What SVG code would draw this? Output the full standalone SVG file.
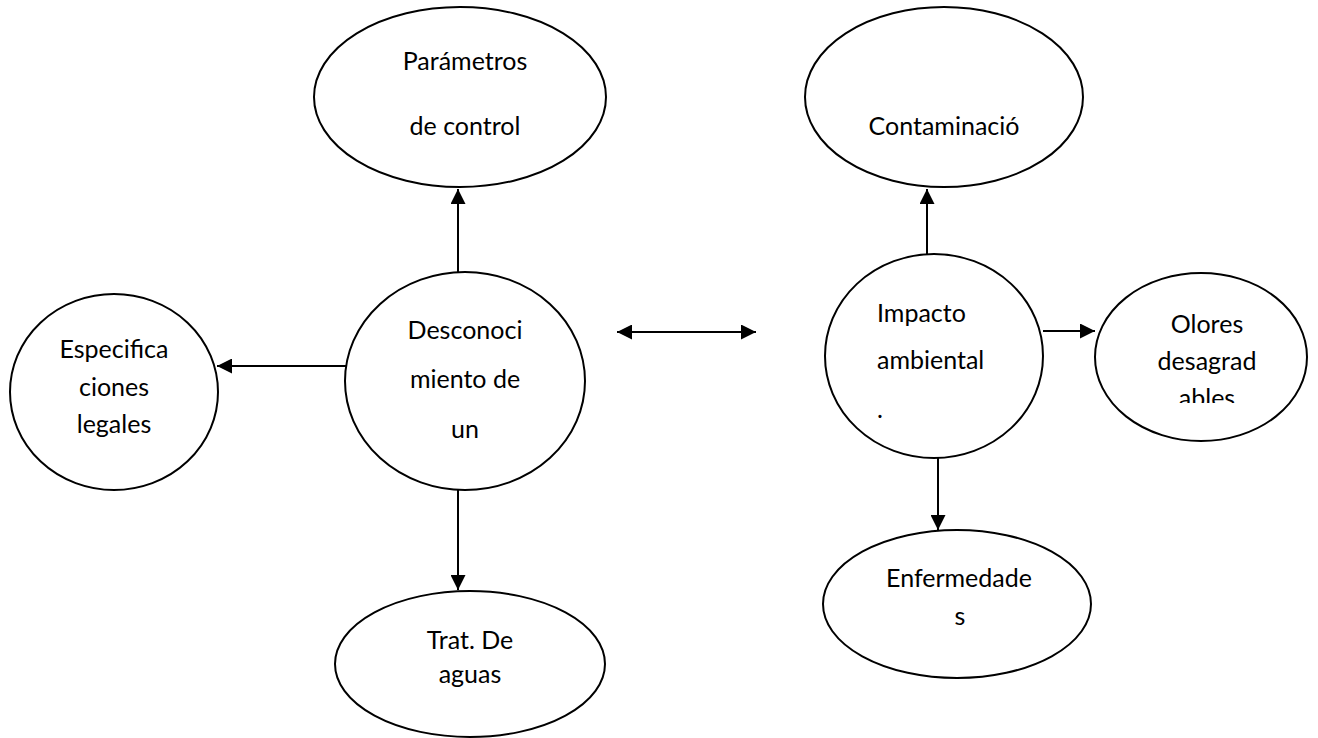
<svg xmlns="http://www.w3.org/2000/svg" width="1318" height="738" viewBox="0 0 1318 738">
  <style>
    .shape { fill: #ffffff; stroke: #000000; stroke-width: 2; }
    .link { fill: none; stroke: #000000; stroke-width: 2; }
    text { font-family: Lato, "Open Sans", "Liberation Sans", sans-serif; font-size: 25px; fill: #000000; }
    .c { text-anchor: middle; }
  </style>
  <defs>
    <marker id="arrow" viewBox="0 0 15 15" refX="15" refY="7.5" markerWidth="15" markerHeight="15" markerUnits="userSpaceOnUse" orient="auto-start-reverse">
      <path d="M0,0 L15,7.5 L0,15 Z" fill="#000000"/>
    </marker>
    <clipPath id="clip-olores">
      <rect x="1090" y="260" width="230" height="143"/>
    </clipPath>
  </defs>

  <rect width="1318" height="738" fill="#ffffff"/>

  <g id="connectors">
    <line class="link" x1="458" y1="272" x2="458" y2="189" marker-end="url(#arrow)"/>
    <line class="link" x1="347" y1="366" x2="217" y2="366" marker-end="url(#arrow)"/>
    <line class="link" x1="458" y1="490" x2="458" y2="590" marker-end="url(#arrow)"/>
    <line class="link" x1="617" y1="332" x2="756" y2="332" marker-start="url(#arrow)" marker-end="url(#arrow)"/>
    <line class="link" x1="927" y1="275" x2="927" y2="189" marker-end="url(#arrow)"/>
    <line class="link" x1="1043" y1="331" x2="1095" y2="331" marker-end="url(#arrow)"/>
    <line class="link" x1="938" y1="458" x2="938" y2="530" marker-end="url(#arrow)"/>
  </g>

  <g id="parametros">
    <ellipse class="shape" cx="460" cy="97" rx="146" ry="90"/>
    <text class="c" x="465" y="70">Parámetros</text>
    <text class="c" x="465" y="135">de control</text>
  </g>

  <g id="contaminacion">
    <ellipse class="shape" cx="944" cy="97" rx="139" ry="90"/>
    <text class="c" x="944" y="135">Contaminació</text>
  </g>

  <g id="especificaciones">
    <ellipse class="shape" cx="114" cy="392" rx="104" ry="98"/>
    <text class="c" x="114" y="358">Especifica</text>
    <text class="c" x="114" y="396">ciones</text>
    <text class="c" x="114" y="433">legales</text>
  </g>

  <g id="desconocimiento">
    <ellipse class="shape" cx="465" cy="381" rx="120" ry="109"/>
    <text class="c" x="465" y="339">Desconoci</text>
    <text class="c" x="465" y="388">miento de</text>
    <text class="c" x="465" y="438">un</text>
  </g>

  <g id="impacto">
    <ellipse class="shape" cx="934" cy="356" rx="109" ry="102"/>
    <text x="877" y="322">Impacto</text>
    <text x="877" y="369">ambiental</text>
    <text x="877" y="418">.</text>
  </g>

  <g id="olores">
    <ellipse class="shape" cx="1201" cy="357" rx="106" ry="84"/>
    <text class="c" x="1207" y="333">Olores</text>
    <text class="c" x="1207" y="370">desagrad</text>
    <text class="c" x="1207" y="407" clip-path="url(#clip-olores)">ables</text>
  </g>

  <g id="enfermedades">
    <ellipse class="shape" cx="957" cy="604" rx="134" ry="74"/>
    <text class="c" x="959" y="587">Enfermedade</text>
    <text class="c" x="960" y="625">s</text>
  </g>

  <g id="tratamiento">
    <ellipse class="shape" cx="470" cy="664" rx="135" ry="73"/>
    <text class="c" x="470" y="649">Trat. De</text>
    <text class="c" x="470" y="683">aguas</text>
  </g>
</svg>
